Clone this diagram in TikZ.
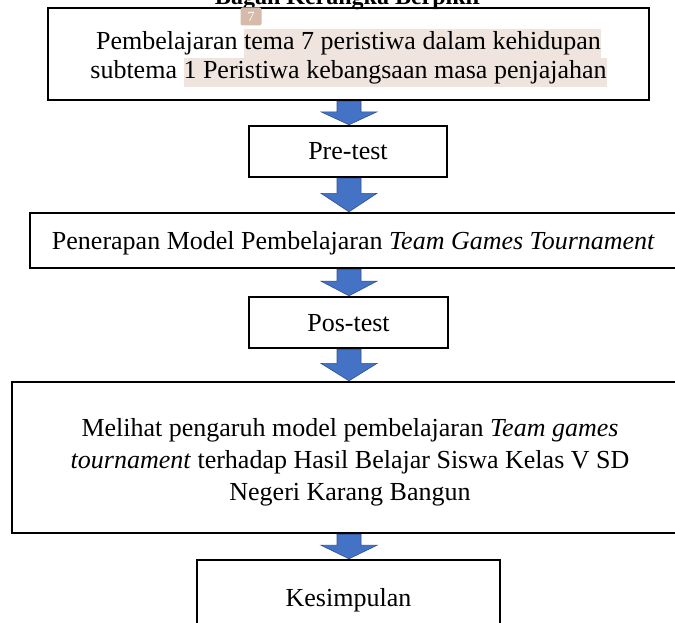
\documentclass[tikz,border=0pt]{standalone}
\usepackage{fontspec}
\setmainfont{Liberation Serif}
\usetikzlibrary{calc,positioning,backgrounds}
\definecolor{arrowblue}{RGB}{68,114,196}
\definecolor{arrowedge}{RGB}{47,82,143}
\definecolor{hlbeige}{RGB}{239,229,222}
\definecolor{tagbrown}{RGB}{214,186,170}
\tikzstyle{stage}  = [rectangle, draw=black, line width=2.4pt, align=center, inner sep=0pt]
\tikzstyle{tag}    = [rectangle, rounded corners=2pt, fill=tagbrown, text=white, inner sep=0pt, minimum width=21pt, minimum height=18pt, font=\fontsize{14}{14}\selectfont]
\newcommand{\hl}[1]{{\setlength{\fboxsep}{0pt}\colorbox{hlbeige}{\strut #1}}}
\newcommand{\dn}[2][3pt]{\raisebox{-#1}[\height][\depth]{#2}}
% block arrow between two stages, on the common axis
\newcommand{\downblock}[2]{%
  \filldraw[fill=arrowblue, draw=arrowedge, line width=0.6pt]
    ($(#1.south -| axis)+(-12,0)$) -- ($(#1.south -| axis)+(12,0)$)
    -- ($(#1.south -| axis)!0.45!(#2.north -| axis)+(12,0)$)
    -- ($(#1.south -| axis)!0.45!(#2.north -| axis)+(28,0)$)
    -- (#2.north -| axis)
    -- ($(#1.south -| axis)!0.45!(#2.north -| axis)+(-28,0)$)
    -- ($(#1.south -| axis)!0.45!(#2.north -| axis)+(-12,0)$) -- cycle;}

\begin{document}
\begin{tikzpicture}[x=1pt, y=-1pt, font=\fontsize{26}{29}\selectfont]
    \path[use as bounding box, clip] (0,0) rectangle (675,623);
    \coordinate (axis) at (349,0);

    \node[font=\fontsize{24}{29}\selectfont\bfseries, anchor=base] (caption) at (349,5) {Bagan Kerangka Berpikir};

    \node[stage, minimum width=601pt, minimum height=92pt] (tema) at (348.5,54)
        {\dn[4pt]{Pembelajaran \hl{tema 7 peristiwa dalam kehidupan}}\\
         \dn[4pt]{subtema \hl{1 Peristiwa kebangsaan masa penjajahan}}};
    \node[tag] (note) at (251,16.5) {7};

    \node[stage, minimum width=198pt, minimum height=51pt] (pre) at (348,151.5) {Pre-test};
    \node[stage, minimum width=647pt, minimum height=55pt] (model) at (353.5,240.5)
        {\dn{Penerapan Model Pembelajaran \textit{Team Games Tournament}}};
    \node[stage, minimum width=199pt, minimum height=51pt] (pos) at (348.5,322.5) {\dn[1pt]{Pos-test}};
    \node[stage, minimum width=676pt, minimum height=151pt, font=\fontsize{26}{32}\selectfont] (hasil) at (350,457.5)
        {\dn[5pt]{Melihat pengaruh model pembelajaran \textit{Team games}}\\
         \dn[5pt]{\textit{tournament} terhadap Hasil Belajar Siswa Kelas V SD}\\
         \dn[5pt]{Negeri Karang Bangun}};
    \node[stage, minimum width=303pt, minimum height=74pt] (simpul) at (348.5,597) {\dn{Kesimpulan}};

    \begin{scope}[on background layer]
        \downblock{tema}{pre}
        \downblock{pre}{model}
        \downblock{model}{pos}
        \downblock{pos}{hasil}
        \downblock{hasil}{simpul}
    \end{scope}
\end{tikzpicture}
\end{document}
